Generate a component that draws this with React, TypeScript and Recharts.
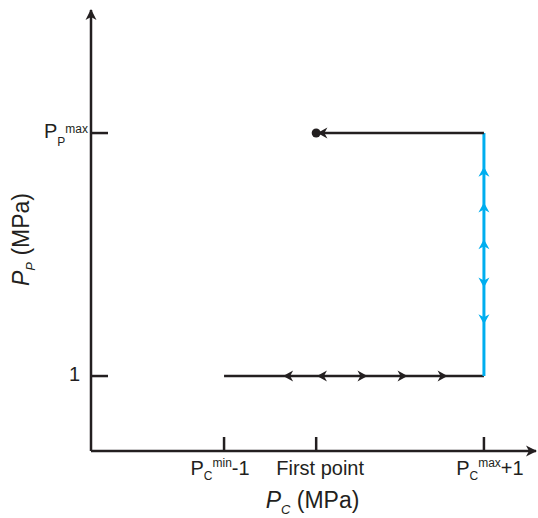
import { ComposedChart, XAxis, YAxis, Line, Scatter, ReferenceDot } from 'recharts';

const INK = '#231f20';
const CYAN = '#00aeef';
const FONT = '"Liberation Sans", Arial, sans-serif';

// x ticks (arbitrary 0-100 scale)
const xTickValues = [29.9, 50.6, 88.3];
const xTickLabels = [
  { main: 'P', sub: 'C', sup: 'min', tail: '-1' },
  { main: 'First point', sub: '', sup: '', tail: '' },
  { main: 'P', sub: 'C', sup: 'max', tail: '+1' },
];

const yTickValues = [17, 72.1];
const yTickLabels = [
  { main: '1', sub: '', sup: '' },
  { main: 'P', sub: 'P', sup: 'max' },
];

// path segments
const lowPath = [
  { x: 29.9, y: 17 },
  { x: 88.3, y: 17 },
];
const risePath = [
  { x: 88.3, y: 17 },
  { x: 88.3, y: 72.1 },
];
const returnPath = [
  { x: 88.3, y: 72.1 },
  { x: 50.6, y: 72.1 },
];
const endPoint = [{ x: 50.6, y: 72.1 }];

// direction markers along the path
const lowArrows = [
  { x: 44.3, y: 17, dir: 'left' },
  { x: 51.9, y: 17, dir: 'left' },
  { x: 61.0, y: 17, dir: 'right' },
  { x: 70.0, y: 17, dir: 'right' },
  { x: 79.0, y: 17, dir: 'right' },
];
const riseArrows = [
  { x: 88.3, y: 63.3, dir: 'up' },
  { x: 88.3, y: 55.2, dir: 'up' },
  { x: 88.3, y: 46.9, dir: 'up' },
  { x: 88.3, y: 38.2, dir: 'down' },
  { x: 88.3, y: 29.9, dir: 'down' },
];
const returnArrows = [{ x: 52.0, y: 72.1, dir: 'left' }];

const ROT: Record<string, number> = { right: 0, down: 90, left: 180, up: 270 };

function ArrowHead(props: any) {
  const { cx, cy, payload, fill } = props;
  if (cx == null || cy == null) return null;
  return (
    <path
      d="M5,0 L-5,-5.5 L-2,0 L-5,5.5 Z"
      transform={`translate(${cx},${cy}) rotate(${ROT[payload.dir] ?? 0})`}
      fill={fill}
    />
  );
}

function EndDot(props: any) {
  const { cx, cy } = props;
  if (cx == null || cy == null) return null;
  return <circle cx={cx} cy={cy} r={4.5} fill={INK} />;
}

function AxisArrow(props: any) {
  const { cx, cy, dir } = props;
  if (cx == null || cy == null) return null;
  return (
    <path
      d="M1,0 L-10,-5.5 L-7,0 L-10,5.5 Z"
      transform={`translate(${cx},${cy}) rotate(${ROT[dir]})`}
      fill={INK}
    />
  );
}

function XTick(props: any) {
  const { x, y, payload } = props;
  const i = xTickValues.indexOf(payload.value);
  const lab = xTickLabels[i];
  if (!lab) return null;
  // labels sit a little off their ticks in the original
  const shift = lab.sup ? (i === 0 ? -4 : 6) : 4;
  return (
    <g>
      <line x1={x} y1={y} x2={x} y2={y - 14} stroke={INK} strokeWidth={2.5} />
      <text x={x + shift} y={y + 24} textAnchor="middle" fontSize={20} fill={INK} fontFamily={FONT}>
        <tspan>{lab.main}</tspan>
        {lab.sub && (
          <tspan fontSize={12} dy={5}>
            {lab.sub}
          </tspan>
        )}
        {lab.sup && (
          <tspan fontSize={12} dy={-13}>
            {lab.sup}
          </tspan>
        )}
        {lab.tail && <tspan dy={8}>{lab.tail}</tspan>}
      </text>
    </g>
  );
}

function YTick(props: any) {
  const { x, y, payload } = props;
  const lab = yTickLabels[yTickValues.indexOf(payload.value)];
  if (!lab) return null;
  return (
    <g>
      <line x1={x} y1={y} x2={x + 17} y2={y} stroke={INK} strokeWidth={2.5} />
      <text
        x={lab.sup ? x - 3 : x - 11}
        y={y + 5}
        textAnchor="end"
        fontSize={20}
        fill={INK}
        fontFamily={FONT}
      >
        <tspan>{lab.main}</tspan>
        {lab.sub && (
          <tspan fontSize={12} dy={8}>
            {lab.sub}
          </tspan>
        )}
        {lab.sup && (
          <tspan fontSize={12} dy={-13}>
            {lab.sup}
          </tspan>
        )}
      </text>
    </g>
  );
}

function XTitle(props: any) {
  const vb = props.viewBox || { x: 91, y: 451, width: 445, height: 60 };
  return (
    <text
      x={vb.x + vb.width / 2 - 1}
      y={vb.y + 57}
      textAnchor="middle"
      fontSize={23}
      fill={INK}
      fontFamily={FONT}
    >
      <tspan fontStyle="italic">P</tspan>
      <tspan fontStyle="italic" fontSize={13} dy={6}>
        C
      </tspan>
      <tspan dy={-6}> (MPa)</tspan>
    </text>
  );
}

function YTitle(props: any) {
  const vb = props.viewBox || { x: 31, y: 10, width: 60, height: 441 };
  const cx = vb.x - 2;
  const cy = vb.y + vb.height / 2 + 9;
  return (
    <text
      x={cx}
      y={cy}
      transform={`rotate(-90, ${cx}, ${cy})`}
      textAnchor="middle"
      fontSize={23}
      fill={INK}
      fontFamily={FONT}
    >
      <tspan fontStyle="italic">P</tspan>
      <tspan fontStyle="italic" fontSize={13} dy={6}>
        P
      </tspan>
      <tspan dy={-6}> (MPa)</tspan>
    </text>
  );
}

export default function App() {
  return (
    <div style={{ position: 'absolute', left: 0, top: 0 }}>
      <ComposedChart
        width={538}
        height={518}
        margin={{ top: 10, right: 2, bottom: 7, left: 31 }}
        style={{ fontFamily: FONT }}
      >
        <XAxis
          dataKey="x"
          type="number"
          domain={[0, 100]}
          allowDataOverflow
          ticks={xTickValues}
          interval={0}
          height={60}
          tickSize={0}
          tickMargin={0}
          tickLine={false}
          axisLine={{ stroke: INK, strokeWidth: 2.5 }}
          tick={<XTick />}
          label={(p: any) => <XTitle {...p} />}
        />
        <YAxis
          dataKey="y"
          type="number"
          domain={[0, 100]}
          allowDataOverflow
          ticks={yTickValues}
          interval={0}
          width={60}
          tickSize={0}
          tickMargin={0}
          tickLine={false}
          axisLine={{ stroke: INK, strokeWidth: 2.5 }}
          tick={<YTick />}
          label={(p: any) => <YTitle {...p} />}
        />
        <Line data={lowPath} dataKey="y" type="linear" stroke={INK} strokeWidth={2.5} dot={false} isAnimationActive={false} />
        <Line data={risePath} dataKey="y" type="linear" stroke={CYAN} strokeWidth={3} dot={false} isAnimationActive={false} />
        <Line data={returnPath} dataKey="y" type="linear" stroke={INK} strokeWidth={2.5} dot={false} isAnimationActive={false} />
        <Scatter data={lowArrows} fill={INK} shape={(p: any) => <ArrowHead {...p} />} isAnimationActive={false} />
        <Scatter data={riseArrows} fill={CYAN} shape={(p: any) => <ArrowHead {...p} />} isAnimationActive={false} />
        <Scatter data={returnArrows} fill={INK} shape={(p: any) => <ArrowHead {...p} />} isAnimationActive={false} />
        <Scatter data={endPoint} fill={INK} shape={(p: any) => <EndDot {...p} />} isAnimationActive={false} />
        <ReferenceDot x={0} y={100} ifOverflow="visible" shape={(p: any) => <AxisArrow {...p} dir="up" />} />
        <ReferenceDot x={100} y={0} ifOverflow="visible" shape={(p: any) => <AxisArrow {...p} dir="right" />} />
      </ComposedChart>
    </div>
  );
}
